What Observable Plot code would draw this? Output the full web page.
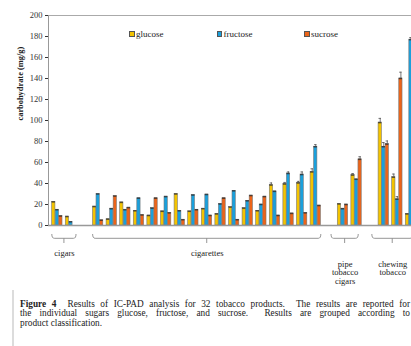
<!DOCTYPE html>
<html><head><meta charset="utf-8">
<script src="https://cdn.jsdelivr.net/npm/d3@7"></script>
<script src="https://cdn.jsdelivr.net/npm/@observablehq/plot@0.6"></script>
<style>
html,body{margin:0;padding:0;background:#fff;overflow:hidden}
#page{position:relative;width:411px;height:346px;overflow:hidden;background:#fff;font-family:"Liberation Serif","DejaVu Serif",serif;color:#222}
#border{position:absolute;left:12px;top:0;width:1.5px;height:346px;background:#dcdcdc}
#chart{position:absolute;left:0;top:0}
#legend{position:absolute;top:0;left:0;font-size:9px}
.li{position:absolute;white-space:nowrap;display:flex;align-items:center;height:10px}
.sw{width:3.5px;height:3.5px;border:0.8px solid #555;margin-right:1.5px}
#caption{position:absolute;left:20px;top:300px;width:390px;font-size:9.3px;line-height:9.4px}
.ln{text-align:justify;text-align-last:justify}
.ln.last{text-align-last:left}
</style></head>
<body><div id="page"><div id="border"></div><div id="chart"></div><div id="legend"></div><div id="caption"></div></div>
<script>
// ---- data ----
const groups = ["cigars", "cigarettes", "pipe\ntobacco\ncigars", "chewing\ntobacco"];
const groupSizes = [2, 17, 2, 3];
const sugars = ["glucose", "fructose", "sucrose"];
const colors = ["#f3c300", "#1aa0dc", "#ec6419"];
const glucose = [22.5, 8.5, 18, 6, 22, 14, 9.5, 13.5, 30, 13.5, 16, 11, 17.5, 16.5, 14, 38.5, 39.5, 40.5, 51, 20.5, 48, 98, 46, 11];
const fructose = [15, 3.5, 30, 16, 15, 26, 16.5, 27.5, 14, 29, 29.5, 20.5, 33, 23.5, 20, 32.5, 49.5, 48.5, 75, 16, 44, 75, 25, 177];
const sucrose = [9, null, 5, 28, 17, 10, 26, 12, 5.5, 15, 9.5, 26, 5.5, 28.5, 27.5, 9.5, 11.5, 12, 19, 20, 63, 77.5, 140, null];
const glucoseErr = [1, 1, 1, 1, 1, 1, 1, 1, 1, 1, 1, 1, 1, 1, 1, 2, 1.5, 1.5, 3, 1, 1.5, 4, 3, 1];
const fructoseErr = [1, 1, 1, 1, 1, 1, 1, 1, 1, 1, 1, 1, 1, 1, 1, 1, 1.5, 2.5, 2, 1, 1, 4, 2.5, 2];
const sucroseErr = [1, 0, 1, 1, 1, 1, 1, 1, 1, 1, 1, 1, 1, 1, 1, 1, 1, 1, 1, 1, 2.5, 3, 6, 0];
const yTicks = d3.range(0, 201, 20);
const yLabel = "carbohydrate (mg/g)";
const captionLines = [
  ["Figure 4", "  Results of IC-PAD analysis for 32 tobacco products.  The results are reported for"],
  ["", "the individual sugars glucose, fructose, and sucrose.  Results are grouped according to"],
  ["", "product classification."]
];

// ---- build table ----
const series = [glucose, fructose, sucrose];
const errs = [glucoseErr, fructoseErr, sucroseErr];
const products = [];
const groupInfo = [];
let slot = 0;
groups.forEach((g, gi) => {
  const first = slot;
  for (let i = 0; i < groupSizes[gi]; i++) products.push({slot: slot++, group: g});
  groupInfo.push({label: g, first, last: slot - 1, multi: g.includes("\n")});
  slot++; // blank slot between groups
});
const bw = 0.24, step = 0.26;
const rows = [];
products.forEach((p, i) => {
  sugars.forEach((s, k) => {
    const v = series[k][i];
    if (v == null) return;
    const x1 = p.slot - 0.39 + k * step;
    rows.push({sugar: s, value: v, err: errs[k][i], x1, x2: x1 + bw, cx: x1 + bw / 2});
  });
});
groupInfo.forEach(g => {
  g.x1 = g.first - (g.multi ? 0.85 : 0.38);
  g.x2 = g.last + (g.multi ? 0.15 : 0.4);
  g.mid = (g.x1 + g.x2) / 2;
});
const xDomain = [-0.66, 26.03];

function brackets(index, scales) {
  const g = d3.create("svg:g").attr("fill", "none").attr("stroke", "#8a8a8a").attr("stroke-width", 0.9);
  const y0 = scales.y(0);
  const t = y0 + 9, h = y0 + 13.3, e = y0 + 18;
  for (const b of groupInfo) {
    const xa = scales.x(b.x1), xb = scales.x(b.x2), xm = scales.x(b.mid);
    g.append("path").attr("d", `M${xa},${t} Q${xa},${h} ${xa + 2.5},${h} H${xb - 2.5} Q${xb},${h} ${xb},${t} M${xm},${h} V${e}`);
  }
  return g.node();
}

const chart = Plot.plot({
  width: 411, height: 290,
  marginLeft: 48, marginRight: 0, marginTop: 15, marginBottom: 65,
  style: {fontFamily: "'Liberation Serif', serif", fontSize: "8.5px", color: "#333", background: "white"},
  x: {domain: xDomain, axis: null},
  y: {domain: [0, 200], ticks: yTicks, tickSize: 3, tickPadding: 3, label: null},
  color: {domain: sugars, range: colors},
  marks: [
    Plot.ruleY([200], {stroke: "#aaa", strokeWidth: 1}),
    Plot.rectY(rows, {x1: "x1", x2: "x2", y1: 0, y2: "value", fill: "sugar", stroke: "#777", strokeWidth: 0.6}),
    Plot.ruleY(rows, {x1: "x1", x2: "x2", y: "value", stroke: "#2a2a2a", strokeWidth: 1.5, strokeOpacity: 0.75}),
    Plot.ruleX(rows.filter(d => d.err > 1), {x: "cx", y1: "value", y2: d => d.value + d.err, stroke: "#555", strokeWidth: 0.8}),
    Plot.ruleY(rows.filter(d => d.err > 1), {x1: d => d.cx - 0.09, x2: d => d.cx + 0.09, y: d => d.value + d.err, stroke: "#555", strokeWidth: 0.8}),
    Plot.ruleY([0], {stroke: "#999", strokeWidth: 1.3}),
    Plot.ruleX([xDomain[0]], {stroke: "#999", strokeWidth: 1}),
    brackets,
    Plot.text(groupInfo.filter(g => !g.multi), {x: "mid", y: 0, text: "label", dy: 28, fontSize: 8.5, fill: "#222"}),
    Plot.text(groupInfo.filter(g => g.multi), {x: "mid", y: 0, text: "label", dy: 35, lineAnchor: "top", lineHeight: 1.02, fontSize: 8.5, fill: "#222"}),
    Plot.text([yLabel], {frameAnchor: "left", dx: -28, rotate: -90, fontWeight: "bold", fontSize: 8.4, fill: "#222"})
  ]
});
document.getElementById("chart").appendChild(chart);

// legend
const legend = document.getElementById("legend");
sugars.forEach((s, k) => {
  const it = document.createElement("div");
  it.className = "li";
  it.style.left = (129 + k * 87.5) + "px";
  it.style.top = "29px";
  it.innerHTML = `<span class="sw" style="background:${colors[k]}"></span><span>${s}</span>`;
  legend.appendChild(it);
});
// caption
const cap = document.getElementById("caption");
captionLines.forEach((l, i) => {
  const d = document.createElement("div");
  d.className = "ln" + (i === captionLines.length - 1 ? " last" : "");
  d.innerHTML = (l[0] ? `<b>${l[0]}</b>` : "") + l[1].replace(/  /g, " &nbsp;");
  cap.appendChild(d);
});
</script></body></html>
